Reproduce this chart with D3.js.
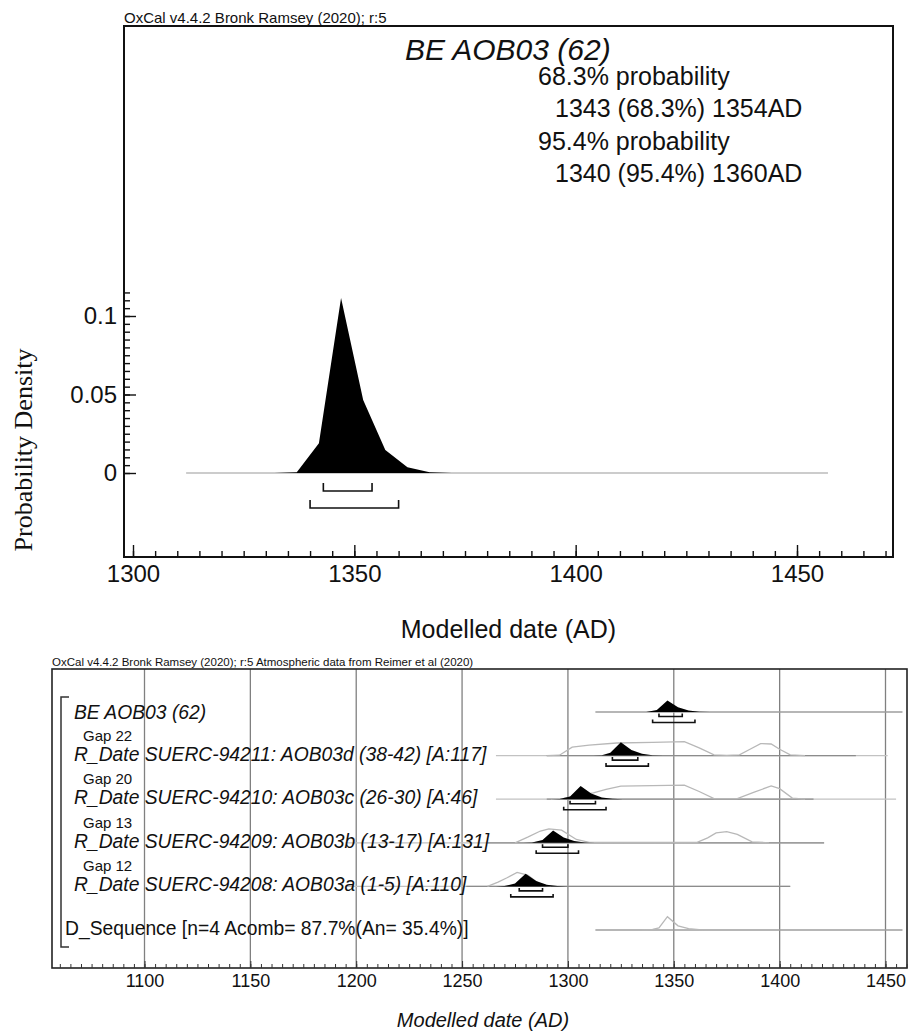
<!DOCTYPE html>
<html>
<head>
<meta charset="utf-8">
<script src="https://cdn.jsdelivr.net/npm/d3@7"></script>
<style>
  body { margin: 0; background: #fff; }
  svg { display: block; font-family: "Liberation Sans", Arial, sans-serif; }
</style>
</head>
<body>
<svg id="chart" width="909" height="1034"></svg>
<script>
// ---------- top panel: single modelled date ----------
const topYears   = [1332, 1337, 1342, 1347, 1352, 1357, 1362, 1367, 1372];
const topDensity = [0, 0.0005, 0.019, 0.1115, 0.0465, 0.0146, 0.0036, 0.0005, 0];
const topSpan    = [1312, 1457];            // extent of the plotted distribution
const range68    = [1343, 1354];
const range95    = [1340, 1360];
const topXTicks  = [1300, 1350, 1400, 1450];
const topYTicks  = [0, 0.05, 0.1];
const infoLines  = ["68.3% probability", "1343 (68.3%) 1354AD", "95.4% probability", "1340 (95.4%) 1360AD"];

// ---------- bottom panel: sequence multiplot ----------
const rowNames = [
  "BE AOB03 (62)",
  "R_Date SUERC-94211: AOB03d (38-42) [A:117]",
  "R_Date SUERC-94210: AOB03c (26-30) [A:46]",
  "R_Date SUERC-94209: AOB03b (13-17) [A:131]",
  "R_Date SUERC-94208: AOB03a (1-5) [A:110]",
  "D_Sequence [n=4 Acomb= 87.7%(An= 35.4%)]"
];
const gapNames = ["Gap 22", "Gap 20", "Gap 13", "Gap 12"];
const bottomXTicks = [1100, 1150, 1200, 1250, 1300, 1350, 1400, 1450];

// posterior (black) of each R_Date, [year, relative density]
const postAOB03d = [[1312,0],[1316,0.02],[1320,0.2],[1325,0.96],[1330,0.4],[1335,0.13],[1340,0.03],[1345,0]];
const postAOB03c = [[1292,0],[1296,0.02],[1301,0.2],[1306,0.95],[1311,0.4],[1316,0.13],[1321,0.03],[1326,0]];
const postAOB03b = [[1279,0],[1283,0.02],[1288,0.2],[1293,0.88],[1298,0.37],[1303,0.12],[1308,0.03],[1313,0]];
const postAOB03a = [[1266,0],[1270,0.02],[1275,0.2],[1280,0.9],[1285,0.38],[1290,0.12],[1295,0.03],[1300,0]];

// unmodelled likelihoods (grey outlines)
const likeAOB03d = [[1290,0],[1296,0.03],[1302,0.6],[1310,0.75],[1323,0.9],[1340,0.95],[1355,1],[1362,0.55],[1369,0.05],[1375,0.02],[1381,0.05],[1386,0.45],[1391,0.86],[1396,0.83],[1400,0.45],[1405,0.05],[1412,0]];
const likeAOB03c = [[1292,0],[1298,0.05],[1305,0.25],[1312,0.45],[1318,0.7],[1325,0.93],[1340,0.97],[1355,1],[1362,0.55],[1369,0.04],[1380,0.04],[1388,0.5],[1396,0.95],[1400,0.75],[1406,0.08],[1412,0]];
const likeAOB03b = [[1275,0],[1281,0.4],[1287,0.84],[1291,1],[1297,0.9],[1304,0.24],[1310,0.03],[1355,0.02],[1361,0.03],[1366,0.35],[1370,0.71],[1375,0.8],[1380,0.6],[1387,0.07],[1395,0]];
const likeAOB03a = [[1262,0],[1267,0.3],[1271,0.6],[1276,1],[1281,0.8],[1287,0.12],[1292,0]];
const seqSpan    = [[1335,0],[1340,0.04],[1343,0.15],[1347,0.95],[1352,0.3],[1357,0.1],[1362,0.02],[1367,0]];

const bracket68 = [[1343,1354],[1321,1333],[1301,1313],[1288,1300],[1277,1288]];
const bracket95 = [[1340,1360],[1318,1338],[1298,1318],[1285,1305],[1273,1293]];
const lightSpans = [[1313,1458],[1266,1451],[1266,1455],[1195,1421],[1195,1405],[1313,1458]];
const darkSpans  = [[1313,1458],[1290,1436],[1290,1416],[1262,1421],[1252,1405],[1313,1458]];

const svg = d3.select("#chart");

function addText(g, x, y, str, size, opts) {
  opts = opts || {};
  return g.append("text")
    .attr("x", x).attr("y", y)
    .attr("text-anchor", opts.anchor || "start")
    .style("font-size", size + "px")
    .style("font-style", opts.italic ? "italic" : "normal")
    .style("font-family", opts.family || null)
    .attr("fill", "#111")
    .text(str);
}

function bracket(g, x0, x1, y, h) {
  g.append("path")
    .attr("d", `M${x0},${y - h}V${y}H${x1}V${y - h}`)
    .attr("fill", "none").attr("stroke", "#111").attr("stroke-width", 1.6);
}

// ================= TOP PANEL =================
const tf = {left: 124, right: 893, top: 26, bottom: 557};
const xTop = d3.scaleLinear().domain([1300, 1450]).range([133, 797]);
const yTop = d3.scaleLinear().domain([0, 0.1]).range([473, 316]);
const topG = svg.append("g");

addText(topG, tf.left, 23, "OxCal v4.4.2 Bronk Ramsey (2020); r:5", 15);

topG.append("rect")
  .attr("x", tf.left).attr("y", tf.top)
  .attr("width", tf.right - tf.left).attr("height", tf.bottom - tf.top)
  .attr("fill", "none").attr("stroke", "#111").attr("stroke-width", 2);

// x axis: major + minor ticks pointing into the frame
topG.append("g").attr("transform", `translate(0,${tf.bottom})`)
  .call(d3.axisBottom(xTop).tickValues(topXTicks).tickSize(-12).tickSizeOuter(0).tickPadding(8).tickFormat(d3.format("")));
topG.append("g").attr("transform", `translate(0,${tf.bottom})`)
  .call(d3.axisBottom(xTop).tickValues(d3.range(1300, 1471, 5)).tickSize(-6).tickSizeOuter(0).tickFormat(""));

// y axis
topG.append("g").attr("transform", `translate(${tf.left},0)`)
  .call(d3.axisLeft(yTop).tickValues(topYTicks).tickSize(-12).tickSizeOuter(0).tickPadding(7).tickFormat(d3.format("")));
topG.append("g").attr("transform", `translate(${tf.left},0)`)
  .call(d3.axisLeft(yTop).tickValues(d3.range(0, 0.1151, 0.005)).tickSize(-6).tickSizeOuter(0).tickFormat(""));

topG.selectAll(".domain").remove();
topG.selectAll(".tick line").attr("stroke", "#111").attr("stroke-width", 1.4);
topG.selectAll(".tick text").style("font-size", "24px").style("font-family", "'Liberation Sans', Arial, sans-serif").attr("fill", "#111");

// distribution
topG.append("line")
  .attr("x1", xTop(topSpan[0])).attr("x2", xTop(topSpan[1]))
  .attr("y1", yTop(0)).attr("y2", yTop(0))
  .attr("stroke", "#9a9a9a").attr("stroke-width", 1.2);

const topArea = d3.area()
  .x(d => xTop(d[0]))
  .y0(yTop(0))
  .y1(d => yTop(d[1]));
topG.append("path")
  .datum(d3.zip(topYears, topDensity))
  .attr("d", topArea)
  .attr("fill", "#000");

bracket(topG, xTop(range68[0]), xTop(range68[1]), 491, 8);
bracket(topG, xTop(range95[0]), xTop(range95[1]), 508, 8);

// texts
addText(topG, 405, 60, rowNames[0], 30, {italic: true});
addText(topG, 538, 85, infoLines[0], 25);
addText(topG, 555, 117, infoLines[1], 25);
addText(topG, 538, 150, infoLines[2], 25);
addText(topG, 555, 182, infoLines[3], 25);

addText(topG, (tf.left + tf.right) / 2, 638, "Modelled date (AD)", 25, {anchor: "middle"});
addText(topG, 0, 0, "Probability Density", 26, {anchor: "middle", family: "'Liberation Serif', 'Times New Roman', serif"})
  .attr("transform", "translate(32,450) rotate(-90)");

// ================= BOTTOM PANEL =================
const bf = {left: 52, right: 907, top: 669, bottom: 968};
const xBot = d3.scaleLinear().domain([1100, 1450]).range([144.5, 885.5]);
const rowY = d3.scalePoint().domain(d3.range(rowNames.length)).range([712, 930]);
const hRel = d3.scaleLinear().domain([0, 1]).range([0, 14]);
const hBE  = d3.scaleLinear().domain([0, 0.135]).range([0, 14]);
const botG = svg.append("g");

addText(botG, bf.left, 666, "OxCal v4.4.2 Bronk Ramsey (2020); r:5 Atmospheric data from Reimer et al (2020)", 11.5);

// grid lines
botG.selectAll(".grid")
  .data(bottomXTicks)
  .enter()
  .append("line")
  .attr("x1", d => xBot(d)).attr("x2", d => xBot(d))
  .attr("y1", bf.top).attr("y2", bf.bottom)
  .attr("stroke", "#808080").attr("stroke-width", 1.3);

botG.append("rect")
  .attr("x", bf.left).attr("y", bf.top)
  .attr("width", bf.right - bf.left).attr("height", bf.bottom - bf.top)
  .attr("fill", "none").attr("stroke", "#222").attr("stroke-width", 1.6);

const botAxis = botG.append("g").attr("transform", `translate(0,${bf.bottom})`)
  .call(d3.axisBottom(xBot).tickValues(bottomXTicks).tickSize(-7).tickSizeOuter(0).tickPadding(6).tickFormat(d3.format("")));
botG.append("g").attr("transform", `translate(0,${bf.bottom})`)
  .call(d3.axisBottom(xBot).tickValues(d3.range(1060, 1461, 5)).tickSize(-4).tickSizeOuter(0).tickFormat(""));
botG.selectAll(".domain").remove();
botG.selectAll(".tick line").attr("stroke", "#333").attr("stroke-width", 1);
botAxis.selectAll(".tick text").style("font-size", "18px").style("font-family", "'Liberation Sans', Arial, sans-serif").attr("fill", "#111");

addText(botG, 483, 1027, "Modelled date (AD)", 20, {anchor: "middle", italic: true});

// sequence bracket on the left
botG.append("path")
  .attr("d", `M69,697H61V947H69`)
  .attr("fill", "none").attr("stroke", "#333").attr("stroke-width", 1.5);

// baselines of each row
rowNames.forEach((name, i) => {
  const y = rowY(i);
  botG.append("line")
    .attr("x1", xBot(lightSpans[i][0])).attr("x2", xBot(lightSpans[i][1]))
    .attr("y1", y).attr("y2", y)
    .attr("stroke", "#c2c2c2").attr("stroke-width", 1.2);
  botG.append("line")
    .attr("x1", xBot(darkSpans[i][0])).attr("x2", xBot(darkSpans[i][1]))
    .attr("y1", y).attr("y2", y)
    .attr("stroke", "#8c8c8c").attr("stroke-width", 1.2);
});

// likelihood outlines
const likes = [null, likeAOB03d, likeAOB03c, likeAOB03b, likeAOB03a, seqSpan];
likes.forEach((data, i) => {
  if (!data) return;
  const line = d3.line().x(d => xBot(d[0])).y(d => rowY(i) - hRel(d[1]));
  botG.append("path")
    .datum(data)
    .attr("d", line)
    .attr("fill", "none").attr("stroke", "#b8b8b8").attr("stroke-width", 1.3);
});

// posteriors
const posts = [d3.zip(topYears, topDensity), postAOB03d, postAOB03c, postAOB03b, postAOB03a];
posts.forEach((data, i) => {
  const h = i === 0 ? hBE : hRel;
  const area = d3.area()
    .x(d => xBot(d[0]))
    .y0(rowY(i))
    .y1(d => rowY(i) - h(d[1]));
  botG.append("path").datum(data).attr("d", area).attr("fill", "#000");
  bracket(botG, xBot(bracket68[i][0]), xBot(bracket68[i][1]), rowY(i) + 4.5, 3);
  bracket(botG, xBot(bracket95[i][0]), xBot(bracket95[i][1]), rowY(i) + 10.5, 3);
});

// row labels
rowNames.forEach((name, i) => {
  if (i === rowNames.length - 1) {
    addText(botG, 65, rowY(i) + 5, name, 19.3);
  } else {
    addText(botG, 74, rowY(i) + (i === 0 ? 7 : 5), name, 19.3, {italic: true});
  }
});
gapNames.forEach((g, i) => {
  addText(botG, 83, rowY(i + 1) - 15, g, 15);
});
</script>
</body>
</html>
